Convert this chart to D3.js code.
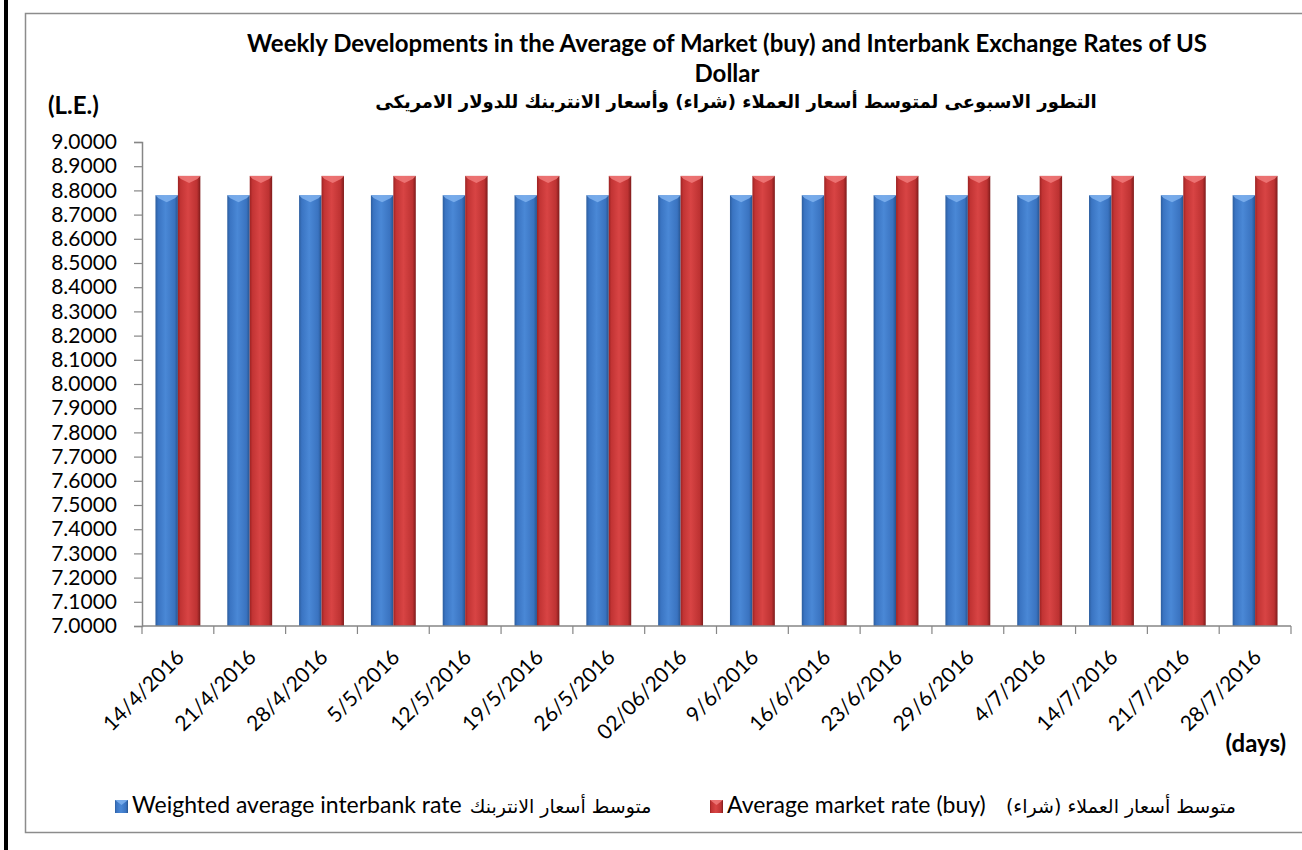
<!DOCTYPE html>
<html><head><meta charset="utf-8">
<script src="https://cdn.jsdelivr.net/npm/d3@7"></script>
<style>body{margin:0;background:#fff} svg{display:block}</style>
</head><body><svg id="c" width="1302" height="850"></svg>
<script>
const dates = ["14/4/2016","21/4/2016","28/4/2016","5/5/2016","12/5/2016","19/5/2016","26/5/2016","02/06/2016","9/6/2016","16/6/2016","23/6/2016","29/6/2016","4/7/2016","14/7/2016","21/7/2016","28/7/2016"];
const interbank = [8.7800,8.7800,8.7800,8.7800,8.7800,8.7800,8.7800,8.7800,8.7800,8.7800,8.7800,8.7800,8.7800,8.7800,8.7800,8.7800];
const market = [8.8600,8.8600,8.8600,8.8600,8.8600,8.8600,8.8600,8.8600,8.8600,8.8600,8.8600,8.8600,8.8600,8.8600,8.8600,8.8600];
const seriesKeys = ["interbank","market"];
const legendEn = ["Weighted average interbank rate","Average market rate (buy)"];
const legendAr = ["متوسط أسعار الانتربنك","متوسط أسعار العملاء (شراء)"];
const titleEn1 = "Weekly Developments in the Average of Market (buy) and Interbank Exchange Rates of US";
const titleEn2 = "Dollar";
const titleAr = "التطور الاسبوعى لمتوسط أسعار العملاء (شراء) وأسعار الانتربنك للدولار الامريكى";
const yUnit = "(L.E.)";
const xUnit = "(days)";

const svg = d3.select("#c");
const EN = "Lato, 'Open Sans', sans-serif";
const AR = "'DejaVu Sans', sans-serif";

const defs = svg.append("defs");
function grad(id, stops){
  const g = defs.append("linearGradient").attr("id", id).attr("x1","0").attr("x2","1").attr("y1","0").attr("y2","0");
  stops.forEach(s => g.append("stop").attr("offset", s[0]).attr("stop-color", s[1]));
}
grad("gBlue", [[0,"#2c5d9e"],[0.12,"#3a74c2"],[0.45,"#4a88d6"],[0.85,"#3a73c0"],[1,"#27548f"]]);
grad("gRed", [[0,"#9c2222"],[0.12,"#c23434"],[0.45,"#d84444"],[0.85,"#bd3232"],[1,"#7e1b1b"]]);
const fills = {interbank:"url(#gBlue)", market:"url(#gRed)"};
const caps = {interbank:"#7fb2ee", market:"#f07a7a"};

svg.append("rect").attr("x",0).attr("y",0).attr("width",1302).attr("height",850).attr("fill","#fff");
svg.append("rect").attr("x",4).attr("y",0).attr("width",4).attr("height",850).attr("fill","#000");
svg.append("rect").attr("x",25.5).attr("y",13.5).attr("width",1290).attr("height",819).attr("fill","none").attr("stroke","#8c8c8c").attr("stroke-width",1.5);

const x = d3.scaleBand().domain(dates).range([142, 1291]).paddingInner(0).paddingOuter(0);
const bw = x.bandwidth();
const x1 = d3.scaleBand().domain(seriesKeys).range([bw*0.1875, bw*0.8125]);
const y = d3.scaleLinear().domain([7, 9]).range([626, 142]);

const rows = dates.map((d,i) => ({date:d, interbank:interbank[i], market:market[i]}));
const g = svg.append("g");
rows.forEach(r => {
  seriesKeys.forEach(k => {
    const bx = x(r.date) + x1(k), w = x1.bandwidth(), top = y(r[k]), bot = y(7);
    g.append("rect").attr("x", bx).attr("y", top).attr("width", w).attr("height", bot - top).attr("fill", fills[k]);
    g.append("path").attr("d", `M${bx},${top}L${bx+w},${top}L${bx+w-3},${top+3}L${bx+w/2},${top+7}L${bx+3},${top+3}Z`).attr("fill", caps[k]).attr("opacity",0.85);
  });
});

const yAxis = d3.axisLeft(y).tickValues(y.ticks(20)).tickFormat(d3.format(".4f")).tickSize(8).tickPadding(17);
const ya = svg.append("g").attr("transform","translate(142,0)").call(yAxis);
ya.select(".domain").attr("stroke","#868686").attr("stroke-width",1.5);
ya.selectAll(".tick line").attr("stroke","#868686").attr("stroke-width",1.2);
ya.selectAll(".tick text").attr("font-family", EN).attr("font-size", 21).attr("fill","#000");

const xa = svg.append("g");
xa.append("line").attr("x1",142).attr("x2",1291).attr("y1",y(7)).attr("y2",y(7)).attr("stroke","#868686").attr("stroke-width",1.5);
const bounds = dates.map(d => x(d)).concat([x(dates[dates.length-1]) + bw]);
xa.selectAll(".xt").data(bounds).enter().append("line")
  .attr("x1", d=>d).attr("x2", d=>d).attr("y1", y(7)).attr("y2", y(7)+8).attr("stroke","#868686").attr("stroke-width",1.2);
xa.selectAll(".xl").data(dates).enter().append("text")
  .attr("transform", d => `translate(${x(d)+bw/2-3},${y(7)+22}) rotate(-45)`)
  .attr("text-anchor","end").attr("dy","0.71em")
  .attr("font-family", EN).attr("font-size", 21).attr("fill","#000").text(d=>d);

svg.append("text").attr("x",727).attr("y",52).attr("text-anchor","middle").attr("font-family",EN).attr("font-weight","bold").attr("font-size",24).text(titleEn1);
svg.append("text").attr("x",727).attr("y",82).attr("text-anchor","middle").attr("font-family",EN).attr("font-weight","bold").attr("font-size",24).text(titleEn2);
svg.append("text").attr("x",736).attr("y",108).attr("text-anchor","middle").attr("direction","rtl").attr("font-family",AR).attr("font-weight","bold").attr("font-size",18).text(titleAr);
svg.append("text").attr("x",48).attr("y",114).attr("font-family",EN).attr("font-weight","bold").attr("font-size",24).text(yUnit);
svg.append("text").attr("x",1286).attr("y",752).attr("text-anchor","end").attr("font-family",EN).attr("font-weight","bold").attr("font-size",24).text(xUnit);

const legX = [115, 710];
seriesKeys.forEach((k,i) => {
  svg.append("rect").attr("x",legX[i]).attr("y",800).attr("width",13).attr("height",13).attr("fill",fills[k]);
  svg.append("path").attr("d",`M${legX[i]},800L${legX[i]+13},800L${legX[i]+6.5},805Z`).attr("fill",caps[k]).attr("opacity",0.85);
  const te = svg.append("text").attr("x",legX[i]+17).attr("y",813).attr("font-family",EN).attr("font-size",23).text(legendEn[i]);
  const ta = svg.append("text").attr("y",813).attr("direction","rtl").attr("text-anchor","start").attr("font-family",AR).attr("font-size",19).text(legendAr[i]);
  if (i === 0) {
    const endX = legX[i] + 17 + te.node().getComputedTextLength();
    ta.attr("x", endX + 8 + ta.node().getComputedTextLength());
  } else {
    ta.attr("x", 1236);
  }
});
</script></body></html>
